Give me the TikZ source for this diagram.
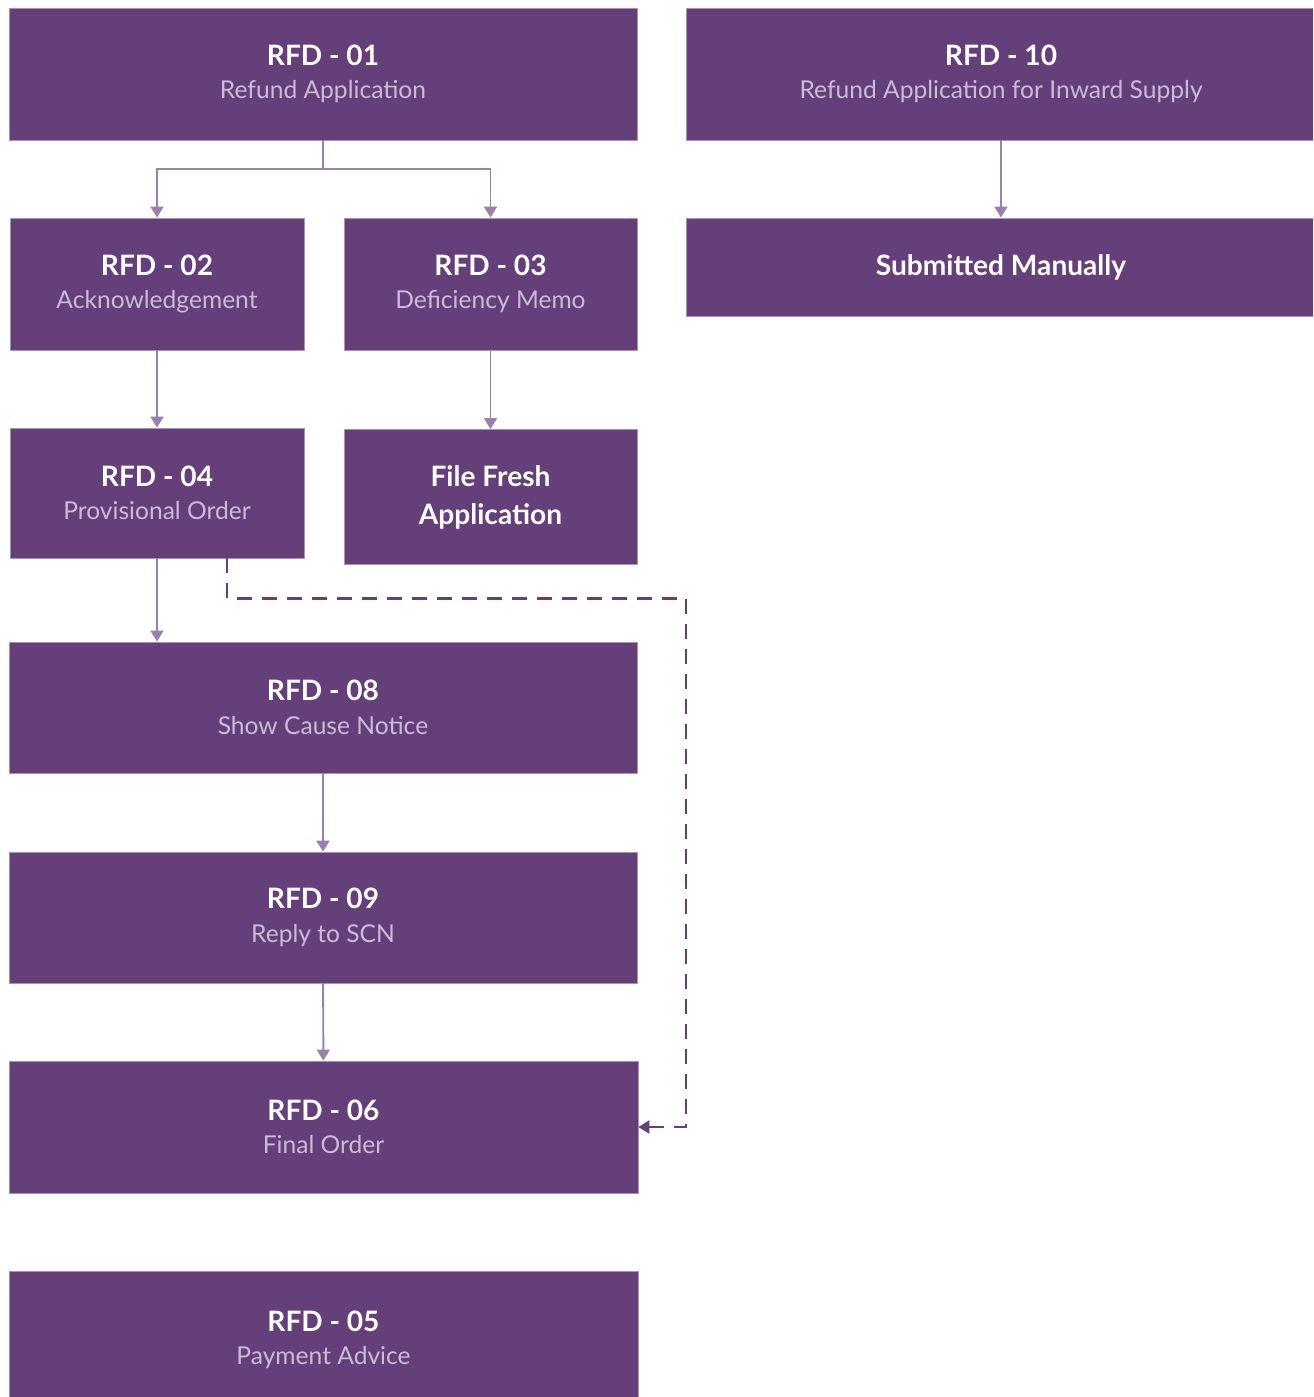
\documentclass[tikz,border=0pt]{standalone}
\usepackage{fontspec}
\setmainfont{Lato}
\usetikzlibrary{arrows.meta}
\definecolor{boxfill}{HTML}{643F79}
\definecolor{boxline}{HTML}{A892BA}
\definecolor{subtext}{HTML}{CBBBD8}
\definecolor{flowline}{HTML}{9A80B0}
\newcommand{\rfdtitle}[2]{{\bfseries\fontsize{16}{19}\selectfont #1}\\[7pt]{\color{subtext}\fontsize{14}{17}\selectfont #2}}
\begin{document}
\begin{tikzpicture}[x=0.02cm,y=-0.02cm,
    box/.style={draw=boxline,line width=0.5pt,fill=boxfill,text=white,align=center,inner sep=0pt},
    wide/.style={box,minimum width=12.56cm,minimum height=2.64cm},
    half/.style={box,minimum width=5.88cm,minimum height=2.64cm},
    plain/.style={font=\bfseries\fontsize{16}{21.6}\selectfont},
    flow/.style={draw=flowline,line width=1.1pt,-{Triangle[width=0.26cm,length=0.22cm]}},
    link/.style={draw=boxfill,line width=1.3pt,dash pattern=on 0.3cm off 0.2cm,-{Triangle[width=0.26cm,length=0.22cm]}}]
      \useasboundingbox (0,0) rectangle (1313,1397);
      \clip (0,0) rectangle (1313,1397);
      \node[wide] (rfd01) at (323,74) {\rfdtitle{RFD - 01}{Refund Application}};
      \node[half] (rfd02) at (157,284) {\rfdtitle{RFD - 02}{Acknowledgement}};
      \node[half,minimum width=5.86cm] (rfd03) at (490.5,284) {\rfdtitle{RFD - 03}{Deficiency Memo}};
      \node[half,minimum height=2.6cm] (rfd04) at (157,493) {\rfdtitle{RFD - 04}{Provisional Order}};
      \node[half,plain,minimum width=5.86cm,minimum height=2.7cm] (fresh) at (490.5,497) {File Fresh\\Application};
      \node[wide,minimum height=2.62cm] (rfd08) at (323,707.5) {\rfdtitle{RFD - 08}{Show Cause Notice}};
      \node[wide,minimum height=2.62cm] (rfd09) at (323,917.5) {\rfdtitle{RFD - 09}{Reply to SCN}};
      \node[wide,minimum width=12.58cm] (rfd06) at (323.5,1127) {\rfdtitle{RFD - 06}{Final Order}};
      \node[wide,minimum width=12.58cm,minimum height=2.76cm] (rfd05) at (323.5,1340) {\rfdtitle{RFD - 05}{Payment Advice}};
      \node[wide,minimum width=12.6cm] (rfd10) at (1001,74) {\rfdtitle{RFD - 10}{Refund Application for Inward Supply}};
      \node[wide,plain,minimum width=12.6cm,minimum height=1.96cm] (manual) at (1001,267) {Submitted Manually};
      \begin{scope}
        \draw[flow] (rfd01.south) -- ++(0,29) -| (rfd02.north);
        \draw[flow] (rfd01.south) -- ++(0,29) -| (rfd03.north);
        \draw[flow] (rfd02) -- (rfd04);
        \draw[flow] (rfd03) -- (fresh);
        \draw[flow] (rfd04) -- (rfd08.north -| rfd04);
        \draw[flow] (rfd08) -- (rfd09);
        \draw[flow] (rfd09) -- (rfd06);
        \draw[flow] (rfd10) -- (manual);
        \draw[link] ([xshift=1.4cm]rfd04.south) -- ++(0,40) -- ++(459,0) |- (rfd06.east);
      \end{scope}
    \end{tikzpicture}
\end{document}
